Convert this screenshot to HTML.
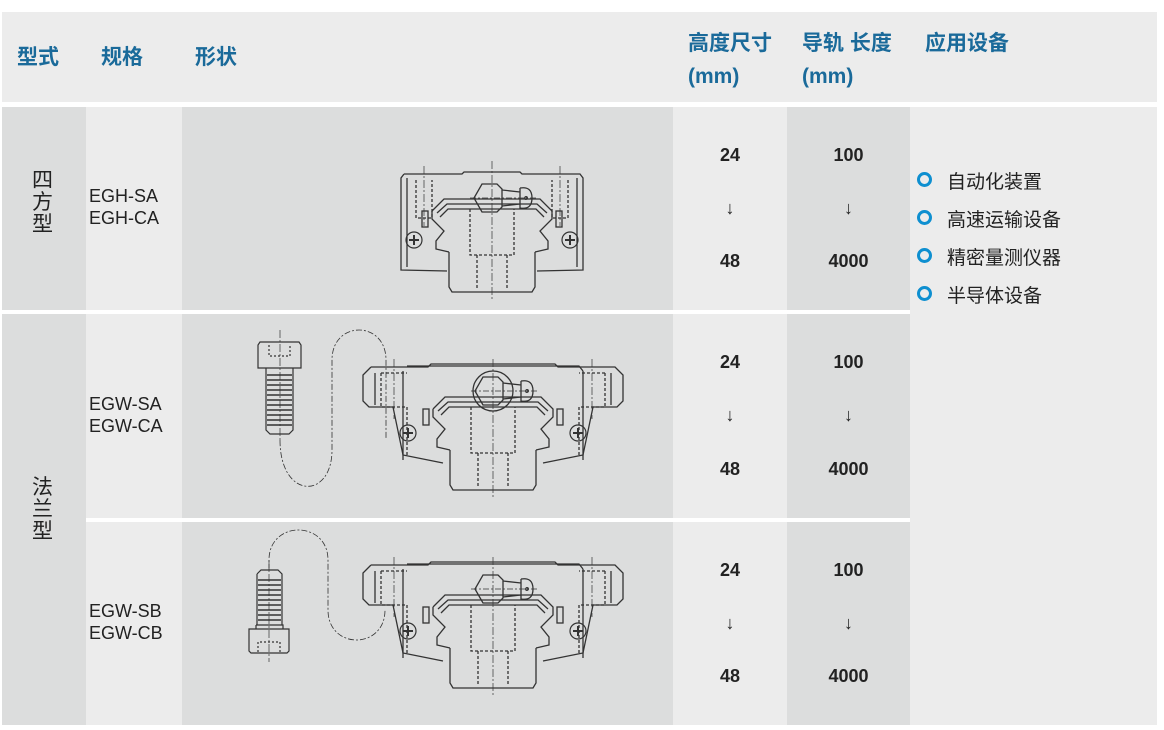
<!DOCTYPE html>
<html><head><meta charset="utf-8">
<style>
body{margin:0;width:1164px;height:730px;background:#fff;position:relative;overflow:hidden;font-family:"Liberation Sans","Noto Sans CJK SC",sans-serif;}
.b{position:absolute;}
.d{background:#dcdddd}.l{background:#ececec}
.h{position:absolute;color:#1a6a9a;font-weight:bold;font-size:21px;font-family:"Liberation Sans","Noto Sans CJK SC",sans-serif;}
.t{position:absolute;color:#222;font-size:18px;line-height:22px;}
.n{position:absolute;color:#222;font-size:18px;font-weight:bold;text-align:center;}
.li{position:absolute;left:918px;color:#222;font-size:19px;}
.li:before{content:"";position:absolute;left:-1px;top:5px;width:9px;height:9px;border:3px solid #0e8fd0;border-radius:50%;}
.li span{margin-left:29px}
</style></head><body>
<div class="b l" style="left:2px;top:12px;width:1155px;height:90px"></div>
<div class="b d" style="left:2px;top:107px;width:84px;height:618px"></div>
<div class="b l" style="left:86px;top:107px;width:96px;height:618px"></div>
<div class="b d" style="left:182px;top:107px;width:491px;height:618px"></div>
<div class="b l" style="left:673px;top:107px;width:114px;height:618px"></div>
<div class="b d" style="left:787px;top:107px;width:123px;height:618px"></div>
<div class="b l" style="left:910px;top:107px;width:247px;height:618px"></div>
<div class="b" style="left:0;top:310px;width:910px;height:4px;background:#fff"></div>
<div class="b" style="left:86px;top:518px;width:824px;height:4px;background:#fff"></div>

<div class="h" style="left:17px;top:41px">型式</div>
<div class="h" style="left:101px;top:41px">规格</div>
<div class="h" style="left:195px;top:41px">形状</div>
<div class="h" style="left:688px;top:27px">高度尺寸</div>
<div class="h" style="left:688px;top:65px">(mm)</div>
<div class="h" style="left:802px;top:27px">导轨 长度</div>
<div class="h" style="left:802px;top:65px">(mm)</div>
<div class="h" style="left:925px;top:27px">应用设备</div>

<div class="t" style="left:32px;top:170px;font-size:21px;line-height:22px;width:22px">四<br>方<br>型</div>
<div class="t" style="left:32px;top:477px;font-size:21px;line-height:22px;width:22px">法<br>兰<br>型</div>
<div class="t" style="left:89px;top:185px">EGH-SA<br>EGH-CA</div>
<div class="t" style="left:89px;top:393px">EGW-SA<br>EGW-CA</div>
<div class="t" style="left:89px;top:600px">EGW-SB<br>EGW-CB</div>

<div class="n" style="left:673px;width:114px;top:145px">24</div>
<div class="n" style="left:673px;width:114px;top:198px">↓</div>
<div class="n" style="left:673px;width:114px;top:251px">48</div>
<div class="n" style="left:787px;width:123px;top:145px">100</div>
<div class="n" style="left:787px;width:123px;top:198px">↓</div>
<div class="n" style="left:787px;width:123px;top:251px">4000</div>
<div class="n" style="left:673px;width:114px;top:352px">24</div>
<div class="n" style="left:673px;width:114px;top:405px">↓</div>
<div class="n" style="left:673px;width:114px;top:459px">48</div>
<div class="n" style="left:787px;width:123px;top:352px">100</div>
<div class="n" style="left:787px;width:123px;top:405px">↓</div>
<div class="n" style="left:787px;width:123px;top:459px">4000</div>
<div class="n" style="left:673px;width:114px;top:560px">24</div>
<div class="n" style="left:673px;width:114px;top:613px">↓</div>
<div class="n" style="left:673px;width:114px;top:666px">48</div>
<div class="n" style="left:787px;width:123px;top:560px">100</div>
<div class="n" style="left:787px;width:123px;top:613px">↓</div>
<div class="n" style="left:787px;width:123px;top:666px">4000</div>

<div class="li" style="top:167px"><span>自动化装置</span></div>
<div class="li" style="top:205px"><span>高速运输设备</span></div>
<div class="li" style="top:243px"><span>精密量测仪器</span></div>
<div class="li" style="top:281px"><span>半导体设备</span></div>

<svg class="b" style="left:0;top:0" width="1164" height="730" viewBox="0 0 1164 730">
<defs>
<g id="rail" fill="none" stroke="#333" stroke-width="1.3">
 <path d="M-43,83 L-43,118 L-40,123 L40,123 L43,118 L43,83"/>
 <path d="M-60,42 L-48,30 L48,30 L60,42 L60,50 L48,62 L56,72 L56,80 L43,83 M-60,42 L-60,50 L-48,62 L-56,72 L-56,80 L-43,83"/>
 <path d="M-55,44 L-45,35 L45,35 L55,44 M-52,48 L-44,40 L44,40 L52,48"/>
 <path d="M-22,40 L-22,86 L22,86 L22,40 M-15,86 L-15,121 M15,86 L15,121" stroke-dasharray="3,2"/>
 <rect x="-70" y="42" width="6" height="16"/><rect x="64" y="42" width="6" height="16"/>
 <path d="M0,-8 L0,132" stroke-width="0.7" stroke-dasharray="8,2,2,2"/>
</g>
<g id="nip" fill="none" stroke="#333" stroke-width="1.3">
 <path d="M-10,-14 L5,-14 L10,-9 L10,9 L5,14 L-10,14 L-18,0 Z"/>
 <path d="M10,-8 L28,-6 M10,8 L28,6 M28,-10 L28,10 Q40,12 40,0 Q40,-12 28,-10"/>
 <circle cx="34" cy="0" r="1.3"/>
 <path d="M-22,0 L46,0" stroke-width="0.7" stroke-dasharray="6,2,2,2"/>
</g>
<g id="scr" fill="none" stroke="#333" stroke-width="1.2">
 <circle r="8"/><path d="M-5,0 L5,0 M0,-5 L0,5" stroke-width="2"/>
</g>
<g id="flange" fill="none" stroke="#333" stroke-width="1.3">
 <path d="M-122,0 L-65,0 L-62,-3 L62,-3 L65,0 L122,0 L130,8 L130,34 L124,40 L100,40 L90,88 L50,96 M-122,0 L-130,8 L-130,34 L-124,40 L-100,40 L-90,88 L-50,96"/>
 <path d="M-90,4 L-90,93 M90,4 L90,93 M-86,-1 L86,-1 L90,4"/>
 <path d="M-118,6 L-118,38 M118,6 L118,38"/>
 <path d="M-112,6 L-112,40 L-86,40 M-112,6 L-86,6 M112,6 L112,40 L86,40 M112,6 L86,6 M-86,40 L-86,88 M86,40 L86,88" stroke-dasharray="3,2"/>
 <path d="M-99,-8 L-99,52 M99,-8 L99,52" stroke-width="0.7" stroke-dasharray="8,2,2,2"/>
 <use href="#scr" x="-85" y="66"/><use href="#scr" x="85" y="66"/>
 <use href="#rail" x="0" y="0"/>
 <use href="#nip" x="0" y="24"/>
</g>
</defs>
<g transform="translate(492,174)" fill="none" stroke="#333" stroke-width="1.3">
 <path d="M-88,0 L-30,0 L-28,-2 L28,-2 L30,0 L88,0 L91,4 L91,96 L45,97 M-88,0 L-91,4 L-91,96 L-45,97"/>
 <path d="M-85,4 L-85,93 M85,4 L85,93"/>
 <path d="M-76,6 L-76,44 L-60,44 L-60,6 M76,6 L76,44 L60,44 L60,6" stroke-dasharray="3,2"/>
 <path d="M-68,-8 L-68,52 M68,-8 L68,52" stroke-width="0.7" stroke-dasharray="8,2,2,2"/>
 <use href="#scr" x="-78" y="66"/><use href="#scr" x="78" y="66"/>
 <g transform="translate(0,-5)"><use href="#rail"/></g>
 <use href="#nip" x="0" y="24"/>
</g>
<use href="#flange" x="493" y="367"/>
<circle cx="493" cy="391" r="20" fill="none" stroke="#333" stroke-width="1.3"/>
<g fill="none" stroke="#333" stroke-width="1.2">
 <path d="M260,342 L299,342 L301,345 L301,368 L258,368 L258,345 Z"/>
 <path d="M266,368 L266,430 L270,434 L289,434 L293,430 L293,368"/>
 <path d="M267,375 H292 M267,380 H292 M267,385 H292 M267,390 H292 M267,395 H292 M267,400 H292 M267,405 H292 M267,410 H292 M267,415 H292 M267,420 H292 M267,425 H292" stroke-width="1.6"/>
 <path d="M269,345 V356 H290 V345" stroke-dasharray="2,2"/>
 <path d="M280,330 V440" stroke-width="0.7" stroke-dasharray="8,2,2,2"/>
 <path d="M280,440 C280,500 332,500 332,450 L332,360 C332,320 386,320 386,360 L386,438" stroke-width="0.8" stroke-dasharray="6,2,2,2"/>
</g>
<use href="#flange" x="493" y="565"/>
<g fill="none" stroke="#333" stroke-width="1.2">
 <path d="M257,574 L261,570 L278,570 L282,574 L282,625 M257,574 L257,625"/>
 <path d="M258,580 H281 M258,585 H281 M258,590 H281 M258,595 H281 M258,600 H281 M258,605 H281 M258,610 H281 M258,615 H281 M258,620 H281" stroke-width="1.6"/>
 <path d="M249,629 L289,629 L289,651 L287,653 L251,653 L249,651 Z M256,625 H283 V629 M256,625 V629"/>
 <path d="M258,652 V642 H280 V652" stroke-dasharray="2,2"/>
 <path d="M269,560 V662" stroke-width="0.7" stroke-dasharray="8,2,2,2"/>
 <path d="M269,570 L269,560 C269,520 328,520 328,560 L328,610 C328,650 385,650 385,610" stroke-width="0.8" stroke-dasharray="6,2,2,2"/>
</g>
</svg>
</body></html>
